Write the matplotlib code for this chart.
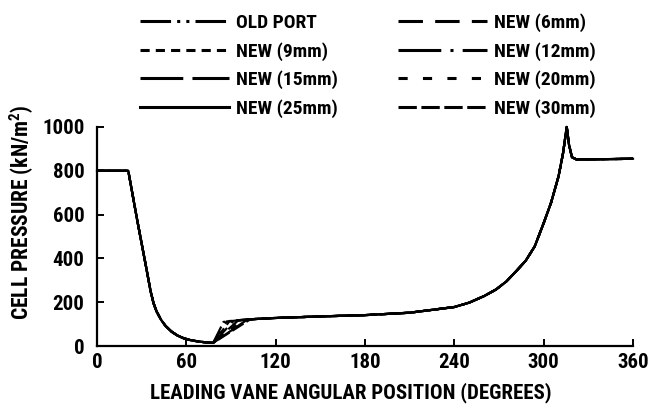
import matplotlib
matplotlib.use('Agg')
import matplotlib.pyplot as plt

plt.rcParams['font.family'] = ['Roboto Condensed', 'DejaVu Sans']
plt.rcParams['font.stretch'] = 'condensed'
plt.rcParams['font.weight'] = 'bold'
plt.rcParams['mathtext.default'] = 'regular'

# Shared part of the cycle: pressure drop from the inlet plateau down to the minimum
angle_drop = [0, 21, 27, 33, 36, 38, 40, 43, 46, 50, 54, 58, 62, 66, 70, 74, 78]
pressure_drop = [800, 800, 575, 360, 250, 195, 158, 120, 92, 66, 48, 36, 28, 23, 19, 16, 14]

# Shared part after the port opens: slow rise, compression and discharge peak
angle_rise = [103, 120, 150, 180, 210, 240, 250, 260, 268, 275, 282, 288, 294, 300,
              305, 310, 313, 315.5, 317, 319, 322, 340, 360]
pressure_rise = [122, 128, 135, 141, 152, 178, 198, 228, 258, 295, 345, 390, 455, 561,
                 655, 775, 880, 1000, 920, 862, 852, 853, 855]

# Each port size differs only in how fast the pressure climbs after the minimum
labels = ['OLD PORT', 'NEW (6mm)', 'NEW (9mm)', 'NEW (12mm)',
          'NEW (15mm)', 'NEW (20mm)', 'NEW (25mm)', 'NEW (30mm)']
open_angle = [85, 87, 89, 92, 95, 98, 101, 103]
open_pressure = [110, 112, 114, 116, 118, 120, 121, 122]

dash_styles = [(0, (10, 2, 1, 2, 1, 2)),
               (0, (8, 4)),
               (0, (3, 2)),
               (0, (14, 3, 1, 3)),
               (0, (14, 3)),
               (0, (3, 5)),
               '-',
               (0, (6, 1.5))]

fig = plt.figure(figsize=(6.57, 4.19), dpi=100)
ax = fig.add_axes([97 / 657, 73 / 419, 536 / 657, 219 / 419])

for lab, a_open, p_open, ls in zip(labels, open_angle, open_pressure, dash_styles):
    xs = angle_drop + [a_open] + angle_rise
    ys = pressure_drop + [p_open] + pressure_rise
    ax.plot(xs, ys, color='black', linestyle=ls, linewidth=1.6, label=lab, clip_on=False)

ax.set_xlim(0, 360)
ax.set_ylim(0, 1000)
ax.set_xticks([0, 60, 120, 180, 240, 300, 360])
ax.set_yticks([0, 200, 400, 600, 800, 1000])
ax.spines['top'].set_visible(False)
ax.spines['right'].set_visible(False)
ax.spines['left'].set_linewidth(1.6)
ax.spines['bottom'].set_linewidth(1.6)
ax.tick_params(direction='in', length=5, width=1.4, labelsize=15)
ax.tick_params(axis='y', pad=9)
ax.tick_params(axis='x', pad=5)

fig.text(22 / 657, 1 - 212 / 419, 'CELL PRESSURE (kN/m$^2$)', rotation=90,
         ha='center', va='center', fontsize=15.5, fontweight='bold')
fig.text(351 / 657, 1 - 393 / 419, 'LEADING VANE ANGULAR POSITION (DEGREES)',
         ha='center', va='center', fontsize=15, fontweight='bold')

# Legend in two columns above the plot (order: left column top-down, then right)
handles, labs = ax.get_legend_handles_labels()
order = [0, 2, 4, 6, 1, 3, 5, 7]
leg = fig.legend([handles[i] for i in order], [labs[i] for i in order],
                 ncol=2, frameon=False, loc='upper left',
                 bbox_to_anchor=(122 / 657, 1 + 4 / 419),
                 fontsize=14, handlelength=4.6, handletextpad=0.35,
                 columnspacing=3.1, labelspacing=0.5)
for line in leg.get_lines():
    line.set_linewidth(2.2)

fig.savefig('out.png', dpi=100)
